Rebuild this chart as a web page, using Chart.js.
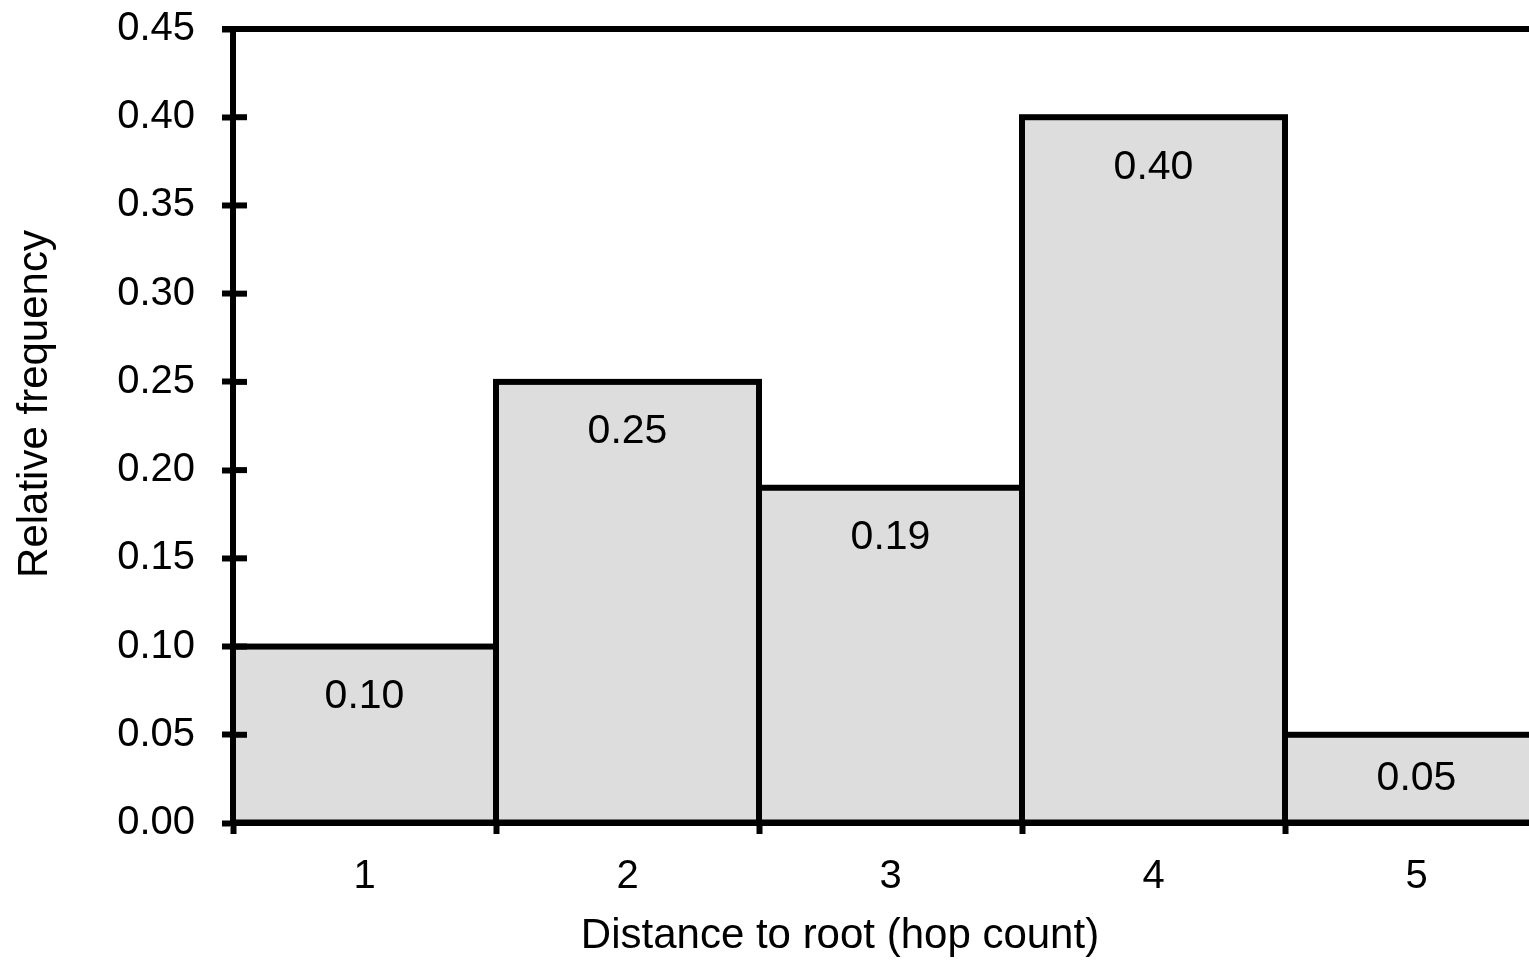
<!DOCTYPE html>
<html>
<head>
<meta charset="utf-8">
<script src="https://cdn.jsdelivr.net/npm/chart.js@4/dist/chart.umd.min.js"></script>
<style>
    html, body { margin: 0; padding: 0; background: #fff; overflow: hidden; }
    canvas { display: block; }
</style>
</head>
<body>
<canvas id="hopChart" width="1548" height="962"></canvas>
<script>
const hops = ["1", "2", "3", "4", "5"];
const frequency = [0.10, 0.25, 0.19, 0.40, 0.05];
const valueLabels = ["0.10", "0.25", "0.19", "0.40", "0.05"];
const yMin = 0;
const yMax = 0.45;
const yStep = 0.05;
const xTitle = "Distance to root (hop count)";
const yTitle = "Relative frequency";

const FONT = "'Liberation Sans', Arial, sans-serif";
const LINE = 6;

Chart.defaults.font.family = FONT;
Chart.defaults.font.size = 40;
Chart.defaults.color = "#000";

// outline each bar, label it, and finish the frame (top line, inner ticks, titles)
const histogramDecor = {
    id: "histogramDecor",
    afterDatasetsDraw(chart) {
        const { ctx } = chart;
        const meta = chart.getDatasetMeta(0);
        ctx.save();
        ctx.strokeStyle = "#000";
        ctx.lineWidth = LINE;
        meta.data.forEach((bar) => {
            const { x, y, base, width } = bar.getProps(["x", "y", "base", "width"], true);
            ctx.strokeRect(x - width / 2, y, width, base - y);
        });

        ctx.fillStyle = "#000";
        ctx.font = `41px ${FONT}`;
        ctx.textAlign = "center";
        ctx.textBaseline = "middle";
        meta.data.forEach((bar, i) => {
            const { x, y, base } = bar.getProps(["x", "y", "base"], true);
            const ty = Math.min(y + 50, (y + base) / 2);
            ctx.fillText(valueLabels[i], x, ty);
        });
        ctx.restore();
    },
    afterDraw(chart) {
        const { ctx, chartArea, scales } = chart;
        ctx.save();
        ctx.strokeStyle = "#000";
        ctx.lineWidth = LINE;

        // top frame line
        ctx.beginPath();
        ctx.moveTo(chartArea.left - 11, chartArea.top);
        ctx.lineTo(chartArea.right, chartArea.top);
        ctx.stroke();

        // y ticks cross the axis into the plot
        scales.y.ticks.forEach((t) => {
            const py = scales.y.getPixelForValue(t.value);
            ctx.beginPath();
            ctx.moveTo(chartArea.left, py);
            ctx.lineTo(chartArea.left + 14, py);
            ctx.stroke();
        });

        ctx.fillStyle = "#000";
        ctx.font = `42px ${FONT}`;
        ctx.textAlign = "center";
        ctx.textBaseline = "middle";
        ctx.fillText(xTitle, 840, 936);

        ctx.translate(35, 404);
        ctx.rotate(-Math.PI / 2);
        ctx.fillText(yTitle, 0, 0);
        ctx.restore();
    },
};

const ctx = document.getElementById("hopChart").getContext("2d");

new Chart(ctx, {
    type: "bar",
    data: {
        labels: hops,
        datasets: [
            {
                data: frequency,
                backgroundColor: "#dddddd",
                borderWidth: 0,
                categoryPercentage: 1,
                barPercentage: 1,
            },
        ],
    },
    options: {
        responsive: false,
        animation: false,
        devicePixelRatio: 1,
        layout: {
            padding: { top: 29, right: 0, bottom: 0, left: 0 },
        },
        plugins: {
            legend: { display: false },
            tooltip: { enabled: false },
        },
        scales: {
            x: {
                offset: true,
                grid: {
                    offset: true,
                    drawOnChartArea: false,
                    tickLength: 11,
                    tickWidth: LINE,
                    tickColor: "#000",
                },
                border: { color: "#000", width: LINE },
                ticks: { padding: 19, color: "#000" },
                afterFit: (scale) => {
                    scale.height = 139;
                    scale.paddingLeft = 0;
                    scale.paddingRight = 0;
                },
            },
            y: {
                min: yMin,
                max: yMax,
                grid: {
                    drawOnChartArea: false,
                    tickLength: 11,
                    tickWidth: LINE,
                    tickColor: "#000",
                },
                border: { color: "#000", width: LINE },
                ticks: {
                    stepSize: yStep,
                    padding: 27,
                    color: "#000",
                    callback: (value) => value.toFixed(2),
                },
                afterFit: (scale) => {
                    scale.width = 233;
                    scale.paddingTop = 0;
                    scale.paddingBottom = 0;
                },
            },
        },
    },
    plugins: [histogramDecor],
});
</script>
</body>
</html>
